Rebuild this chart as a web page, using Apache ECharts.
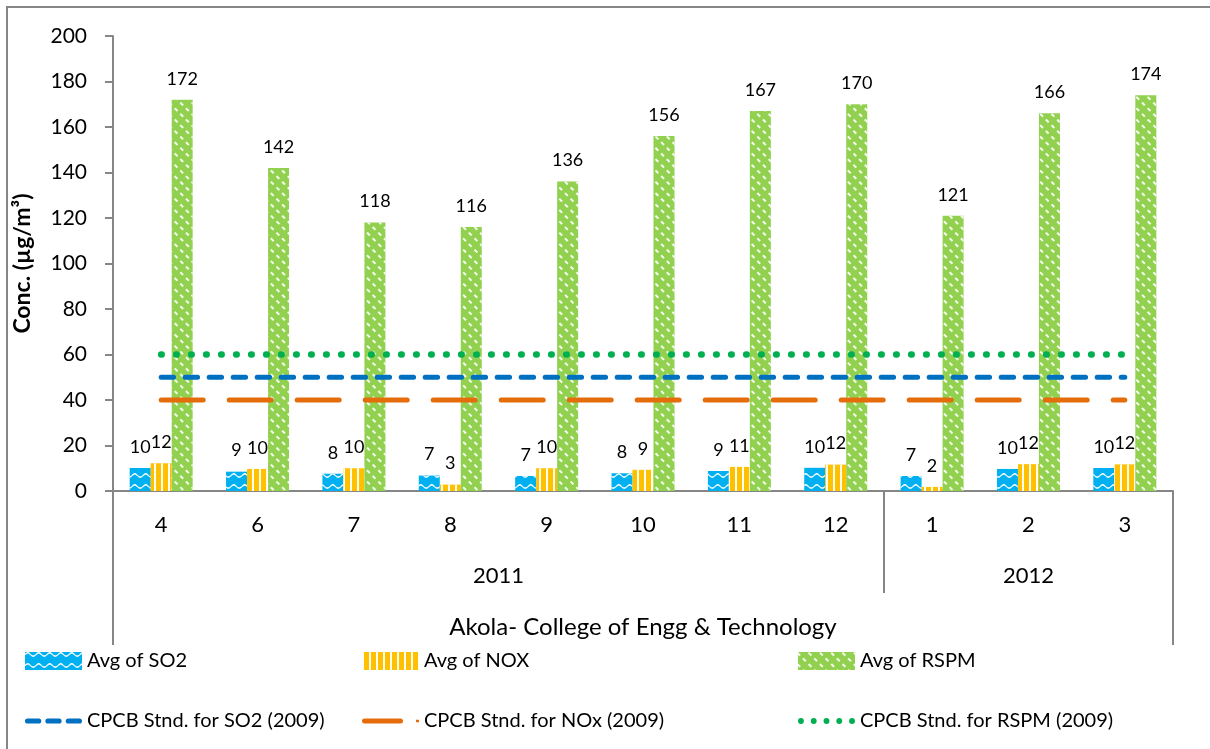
<!DOCTYPE html>
<html>
<head>
<meta charset="utf-8">
<title>Akola - College of Engg & Technology</title>
<script src="https://cdn.jsdelivr.net/npm/echarts@6/dist/echarts.min.js"></script>
<style>
  html, body { margin: 0; padding: 0; background: #fff; }
  #chart { width: 1210px; height: 749px; }
</style>
</head>
<body>
<div id="chart"></div>
<script>
// months on the lower axis level, years on the upper level
const months = ['4', '6', '7', '8', '9', '10', '11', '12', '1', '2', '3']
const years = ['2011', '2012']
const yearSpans = [8, 3] // number of months under each year

// monthly averages (ug/m3), labels show rounded values
const so2 = [10.1, 8.5, 7.6, 6.8, 6.6, 7.8, 8.8, 10.2, 6.6, 9.7, 10.1]
const nox = [12.2, 9.7, 10.0, 2.8, 10.0, 9.3, 10.6, 11.6, 1.8, 11.8, 11.7]
const rspm = [172, 142, 118, 116, 136, 156, 167, 170, 121, 166, 174]

// CPCB standards (2009)
const so2Std = [50, 50, 50, 50, 50, 50, 50, 50, 50, 50, 50]
const noxStd = [40, 40, 40, 40, 40, 40, 40, 40, 40, 40, 40]
const rspmStd = [60, 60, 60, 60, 60, 60, 60, 60, 60, 60, 60]

const yTicks = { min: 0, max: 200, interval: 20 }

// year boundaries and label centres, from the spans
const yearEdges = [0]
yearSpans.forEach(s => yearEdges.push(yearEdges[yearEdges.length - 1] + s))
const yearCenters = yearSpans.map((s, i) => yearEdges[i] + s / 2)

const FONT = 'Lato'
const AXIS_GREY = '#868686'

// legend icons for the standard lines (dashes / long dash + marker / dots)
const dash = x => `M${x + 2.5},0h11a2.5,2.5 0 0,1 0,5h-11a2.5,2.5 0 0,1 0,-5z`
const dot = x => `M${x},2.5a3,3 0 1,0 6,0a3,3 0 1,0 -6,0z`
const ICON_SO2 = 'path://' + [0, 20, 40].map(dash).join(' ')
const ICON_NOX = 'path://M2.5,0h36a2.5,2.5 0 0,1 0,5h-36a2.5,2.5 0 0,1 0,-5z M54,1.2h3v2.6h-3z'
const ICON_RSPM = 'path://' + [0, 13, 26, 39, 52].map(dot).join(' ')

function barLabel(size) {
  return {
    show: true,
    position: 'top',
    distance: 12,
    color: '#000',
    fontSize: size,
    fontFamily: FONT,
    formatter: p => Math.round(p.value)
  }
}

const chart = echarts.init(document.getElementById('chart'))

const option = {
  backgroundColor: '#fff',
  animation: false,
  textStyle: { fontFamily: FONT, color: '#000' },
  graphic: [{
    type: 'rect',
    shape: { x: 7, y: 7, width: 1220, height: 770 },
    style: { fill: 'none', stroke: AXIS_GREY, lineWidth: 2 },
    silent: true
  }],
  grid: { left: 113, right: 37, top: 36, bottom: 258, outerBoundsMode: 'none' },
  legend: [
    { data: ['Avg of SO2'], left: 25, top: 651, icon: 'rect' },
    { data: ['Avg of NOX'], left: 362, top: 651, icon: 'rect' },
    { data: ['Avg of RSPM'], left: 798, top: 651, icon: 'rect' },
    { data: ['CPCB Stnd. for SO2 (2009)'], left: 25, top: 711, icon: ICON_SO2 },
    { data: ['CPCB Stnd. for NOx (2009)'], left: 362, top: 711, icon: ICON_NOX },
    { data: ['CPCB Stnd. for RSPM (2009)'], left: 798, top: 711, icon: ICON_RSPM }
  ].map(l => Object.assign({
    padding: 0,
    itemWidth: 57,
    itemHeight: 18,
    selectedMode: false,
    textStyle: { fontSize: 20, color: '#000', fontFamily: FONT }
  }, l)),
  xAxis: [
    {
      type: 'category',
      data: months,
      position: 'bottom',
      axisLine: { lineStyle: { color: AXIS_GREY, width: 2 } },
      axisTick: { length: 52, lineStyle: { color: AXIS_GREY, width: 2 } },
      axisLabel: { fontSize: 22, color: '#000', margin: 23, fontFamily: FONT }
    },
    {
      // year level
      type: 'value',
      min: 0,
      max: months.length,
      position: 'bottom',
      axisLine: { show: false },
      splitLine: { show: false },
      axisTick: {
        show: true,
        length: 102,
        customValues: yearEdges.slice(1, -1),
        lineStyle: { color: AXIS_GREY, width: 2 }
      },
      axisLabel: {
        fontSize: 22,
        color: '#000',
        margin: 74,
        fontFamily: FONT,
        customValues: yearCenters,
        formatter: v => years[yearCenters.indexOf(v)]
      }
    },
    {
      // outer frame of the multi level axis, plus axis title
      type: 'value',
      min: 0,
      max: months.length,
      position: 'bottom',
      axisLine: { show: false },
      splitLine: { show: false },
      axisTick: {
        show: true,
        length: 154,
        customValues: [yearEdges[0], yearEdges[yearEdges.length - 1]],
        lineStyle: { color: AXIS_GREY, width: 2 }
      },
      axisLabel: { show: false },
      name: 'Akola- College of Engg & Technology',
      nameLocation: 'middle',
      nameGap: 124,
      nameTextStyle: { fontSize: 24, color: '#000', fontFamily: FONT }
    }
  ],
  yAxis: {
    type: 'value',
    min: yTicks.min,
    max: yTicks.max,
    interval: yTicks.interval,
    name: 'Conc. (µg/m³)',
    nameLocation: 'middle',
    nameGap: 79,
    nameTextStyle: { fontSize: 23, fontWeight: 'bold', color: '#000', fontFamily: FONT },
    axisLine: { show: true, lineStyle: { color: AXIS_GREY, width: 2 } },
    axisTick: { show: true, length: 8, lineStyle: { color: AXIS_GREY, width: 2 } },
    axisLabel: { fontSize: 21, color: '#000', margin: 26, fontFamily: FONT },
    splitLine: { show: false }
  },
  series: [
    {
      name: 'Avg of SO2',
      type: 'bar',
      data: so2,
      barWidth: 21,
      barGap: '0%',
      itemStyle: {
        color: '#00B0F0',
        decal: {
          symbol: 'path://M0,2 C2,0 3.5,0 5.5,2 C7.5,4 9,4 11,2 L11,3.6 C9,5.6 7.5,5.6 5.5,3.6 C3.5,1.6 2,1.6 0,3.6 Z',
          symbolSize: 1,
          symbolKeepAspect: false,
          dashArrayX: [11, 0],
          dashArrayY: [5, 6],
          color: 'rgba(255,255,255,0.95)'
        }
      },
      label: barLabel(18)
    },
    {
      name: 'Avg of NOX',
      type: 'bar',
      data: nox,
      barWidth: 21,
      barGap: '0%',
      itemStyle: {
        color: '#FFC000',
        decal: {
          symbol: 'rect',
          symbolSize: 1,
          symbolKeepAspect: false,
          dashArrayX: [2, 5],
          dashArrayY: [10, 0],
          color: 'rgba(255,255,255,0.95)'
        }
      },
      label: barLabel(18)
    },
    {
      name: 'Avg of RSPM',
      type: 'bar',
      data: rspm,
      barWidth: 21,
      barGap: '0%',
      itemStyle: {
        color: '#92D050',
        decal: {
          symbol: 'rect',
          symbolSize: 1,
          symbolKeepAspect: false,
          dashArrayX: [[4, 4]],
          dashArrayY: [1.2, 6],
          rotation: Math.PI / 4,
          color: 'rgba(255,255,255,0.9)'
        }
      },
      label: barLabel(18)
    },
    {
      name: 'CPCB Stnd. for SO2 (2009)',
      type: 'line',
      data: so2Std,
      symbol: 'none',
      lineStyle: { color: '#0070C0', width: 5, type: [12.4, 11.6], cap: 'round' },
      itemStyle: { color: '#0070C0' },
      z: 3
    },
    {
      name: 'CPCB Stnd. for NOx (2009)',
      type: 'line',
      data: noxStd,
      symbol: 'none',
      lineStyle: { color: '#E46C0A', width: 5, type: [42, 26], cap: 'round' },
      itemStyle: { color: '#E46C0A' },
      z: 3
    },
    {
      name: 'CPCB Stnd. for RSPM (2009)',
      type: 'line',
      data: rspmStd,
      symbol: 'none',
      lineStyle: { color: '#00B050', width: 6.5, type: [0.5, 14.5], cap: 'round' },
      itemStyle: { color: '#00B050' },
      z: 3
    }
  ]
}

chart.setOption(option)
</script>
</body>
</html>
